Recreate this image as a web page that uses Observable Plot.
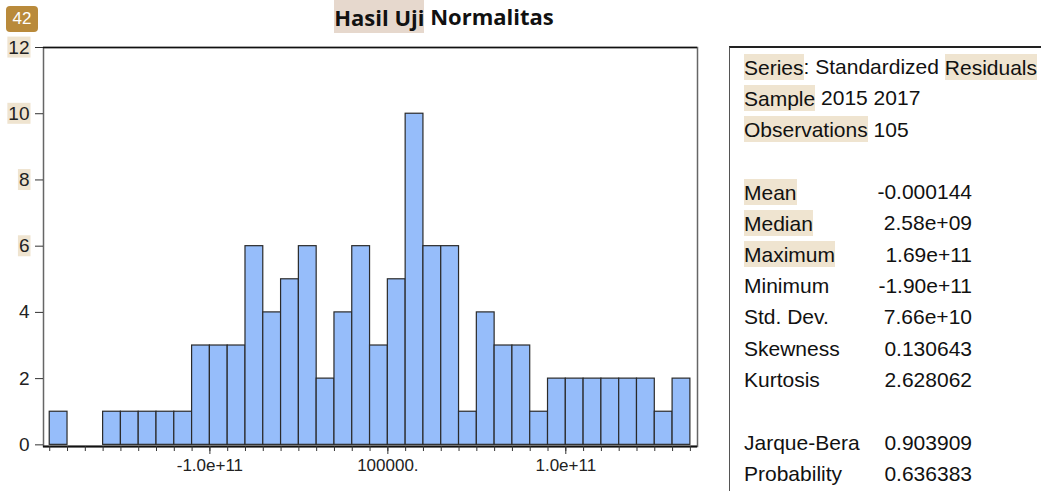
<!DOCTYPE html>
<html><head><meta charset="utf-8">
<script src="https://cdn.jsdelivr.net/npm/d3@7"></script>
<script src="https://cdn.jsdelivr.net/npm/@observablehq/plot@0.6"></script>
<style>
html,body{margin:0;padding:0;background:#fff;}
body{width:1042px;height:491px;overflow:hidden;position:relative;font-family:"Liberation Sans",Arial,sans-serif;color:#111;}
#chart{position:absolute;left:0;top:0;}
#title{position:absolute;top:0;left:0;width:888px;text-align:center;font-family:"Open Sans";font-weight:bold;font-size:22px;line-height:32px;color:#111;white-space:nowrap;}
#title .hl{background:#e6d8cd;}
#badge{position:absolute;left:6px;top:6px;width:32px;height:26px;background:#b98a3b;color:#fff;border-radius:4px;font-size:17px;text-align:center;line-height:26px;}
#stats{position:absolute;left:729px;top:46px;width:312px;height:460px;border-left:1.5px solid #555;border-top:2px solid #222;box-sizing:border-box;padding-top:3px;}
.row{position:relative;left:14px;width:228px;height:31.3px;line-height:31.3px;font-size:21px;white-space:nowrap;color:#111;}
.row .v{position:absolute;right:0;top:0;}
.hl{background:#efe4d0;padding:1.5px 0;}
</style>
</head><body>
<div id="title"></div>
<div id="chart"></div>
<div id="badge">42</div>
<div id="stats"></div>
<script>
// ---- data ----
const titleText = "Hasil Uji Normalitas";
const titleHighlight = "Hasil Uji";
const counts = [1,0,0,1,1,1,1,1,3,3,3,6,4,5,6,2,4,6,3,5,10,6,6,1,4,3,3,1,2,2,2,2,2,2,1,2];
const binMin = -1.9e11;
const binWidth = 1e10;
const xMajorTicks = [-1e11, 0, 1e11];
const xMajorLabels = ["-1.0e+11", "100000.", "1.0e+11"];
const yTicks = [0, 2, 4, 6, 8, 10, 12];
const yHighlighted = ["6", "8", "10", "12"];
const headerLines = ["Series: Standardized Residuals", "Sample 2015 2017", "Observations 105"];
const statLabels = ["Mean", "Median", "Maximum", "Minimum", "Std. Dev.", "Skewness", "Kurtosis"];
const statValues = ["-0.000144", "2.58e+09", "1.69e+11", "-1.90e+11", "7.66e+10", "0.130643", "2.628062"];
const testLabels = ["Jarque-Bera", "Probability"];
const testValues = ["0.903909", "0.636383"];
const highlightWords = ["Series", "Residuals", "Sample", "Observations", "Mean", "Median", "Maximum"];

// ---- title ----
document.getElementById("title").innerHTML =
  `<span class="hl">${titleHighlight}</span>${titleText.slice(titleHighlight.length)}`;

// ---- histogram ----
const bins = counts.map((c, i) => ({x1: binMin + i * binWidth, x2: binMin + (i + 1) * binWidth, count: c}));
const edges = [...bins.map(b => b.x1), bins[bins.length - 1].x2];
const xDomain = [-1.935e11, 1.74e11];
const yDomain = [-0.05, 12];

const chart = Plot.plot({
  width: 720,
  height: 491,
  marginLeft: 43,
  marginRight: 23,
  marginTop: 47,
  marginBottom: 45,
  style: {fontFamily: "Liberation Sans, Arial, sans-serif", color: "#222", background: "transparent"},
  x: {domain: xDomain, label: null},
  y: {domain: yDomain, label: null},
  marks: [
    Plot.rectY(bins.filter(d => d.count > 0), {x1: "x1", x2: "x2", y1: 0, y2: "count", fill: "#96bdfa", stroke: "#2a2a2a", strokeWidth: 1.2}),
    Plot.frame({stroke: "#666", strokeWidth: 1.5}),
    Plot.ruleY([yDomain[1]], {stroke: "#111", strokeWidth: 1.5}),
    Plot.ruleY([yDomain[0]], {stroke: "#111", strokeWidth: 2.2}),
    Plot.axisX({ticks: edges, tickSize: 5, tickFormat: () => "", stroke: "#333", label: null}),
    Plot.axisX({ticks: xMajorTicks, tickSize: 8, tickPadding: 4, fontSize: 17, stroke: "#333", label: null,
      tickFormat: d => xMajorLabels[xMajorTicks.indexOf(d)]}),
    Plot.axisY({ticks: yTicks, tickSize: 8, tickPadding: 6, fontSize: 19, stroke: "#333", label: null, tickFormat: d => String(d)})
  ]
});
document.getElementById("chart").appendChild(chart);

// highlight selected y tick labels
chart.querySelectorAll('g[aria-label="y-axis tick label"] text').forEach(t => {
  if (!yHighlighted.includes(t.textContent)) return;
  const b = t.getBBox();
  const r = document.createElementNS("http://www.w3.org/2000/svg", "rect");
  r.setAttribute("x", b.x - 1);
  r.setAttribute("y", b.y);
  r.setAttribute("width", b.width + 2);
  r.setAttribute("height", b.height);
  r.setAttribute("fill", "#efe4d0");
  if (t.getAttribute("transform")) r.setAttribute("transform", t.getAttribute("transform"));
  t.parentNode.insertBefore(r, t);
});

// ---- stats panel ----
function hlText(s) {
  return s.split(/(\s+|:)/).map(w => highlightWords.includes(w) ? `<span class="hl">${w}</span>` : w).join("");
}
const stats = document.getElementById("stats");
let html = "";
headerLines.forEach(l => html += `<div class="row">${hlText(l)}</div>`);
html += `<div class="row"></div>`;
statLabels.forEach((l, i) => html += `<div class="row">${hlText(l)}<span class="v">${statValues[i]}</span></div>`);
html += `<div class="row"></div>`;
testLabels.forEach((l, i) => html += `<div class="row">${hlText(l)}<span class="v">${testValues[i]}</span></div>`);
stats.innerHTML = html;
</script>
</body></html>
